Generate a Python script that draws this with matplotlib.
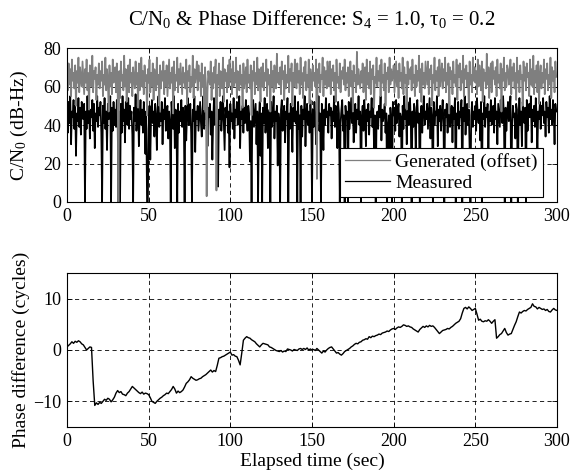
import numpy as np
import matplotlib
matplotlib.use("Agg")
import matplotlib.pyplot as plt

# ---------------- data ----------------
cn0_dt = 0.5  # sample spacing (s) of the C/N0 traces

measured_cn0 = [
    48,36,52,41,55,30,47,44,53,38,50,24,46,42,54,39,49,35,52,45,
    43,51,0,47,38,55,41,50,33,48,44,53,37,51,28,46,42,55,39,49,
    45,52,36,0,50,41,54,38,47,27,51,43,46,55,0,49,37,52,40,48,
    39,53,44,0,47,0,51,36,55,42,48,31,52,45,40,54,38,50,43,47,
    35,0,49,42,56,37,46,51,29,44,53,40,48,36,52,43,25,47,0,0,
    38,50,22,45,53,41,47,34,51,44,27,49,55,39,46,42,52,30,48,43,
    54,37,46,50,33,47,41,0,52,44,38,55,28,48,43,0,51,36,47,42,
    53,39,49,45,0,50,32,46,54,40,44,51,36,0,48,42,55,26,47,43,
    50,37,45,52,41,34,48,55,38,46,43,53,29,49,44,51,35,47,22,42,
    54,40,46,50,31,8,48,43,52,37,45,55,41,27,49,44,53,36,47,18,
    51,42,46,38,54,33,48,44,52,40,45,55,28,47,43,50,36,49,41,53,
    44,37,50,46,21,42,0,48,53,39,45,51,30,47,0,43,52,24,46,0,
    49,41,54,36,46,51,28,44,48,0,52,39,45,55,33,47,42,50,19,46,
    40,0,48,53,37,45,50,31,47,43,54,0,46,38,51,44,26,49,42,55,
    41,47,0,52,38,45,0,50,34,48,43,55,29,46,51,40,47,36,53,44,
    0,48,39,52,45,30,49,42,55,37,46,0,51,43,27,48,40,54,44,47,
    36,51,45,49,33,47,42,55,39,50,44,28,52,46,0,41,48,53,37,45,
    0,50,43,47,0,52,38,46,54,41,49,31,45,51,36,48,43,55,40,47,
    0,44,50,37,53,46,29,48,42,51,35,47,44,54,39,49,26,45,0,41,
    47,38,50,44,55,32,48,42,46,51,36,46,0,40,45,28,49,43,0,52,
    45,49,37,53,41,47,51,34,46,44,0,50,38,55,43,48,30,52,45,40,
    54,42,0,47,39,51,45,27,49,53,41,46,0,44,50,36,48,55,40,47,
    43,51,38,46,54,33,49,44,0,52,40,47,45,55,29,48,42,50,37,46,
    53,41,0,48,44,51,36,47,55,39,45,50,31,49,43,54,0,46,40,52,
    38,47,44,53,0,49,42,55,35,46,51,40,48,27,0,45,52,39,47,43,
    50,37,54,45,41,48,32,52,0,46,43,55,39,49,44,51,28,47,42,53,
    40,46,50,36,54,43,47,30,51,45,39,53,48,41,55,44,0,49,37,46,
    52,42,47,55,0,38,50,44,46,33,51,48,0,43,54,40,47,29,52,45,
    41,49,0,53,37,46,51,44,55,31,48,42,50,39,54,45,26,47,43,52,
    38,50,45,54,41,47,34,52,44,49,36,55,43,48,40,53,46,30,51,47,
]

generated_cn0 = [
    66,58,72,61,69,55,74,63,67,59,71,50,68,62,75,57,70,64,60,73,
    65,56,69,62,74,58,67,48,71,63,60,76,57,68,64,70,53,66,61,72,
    59,68,63,73,55,66,61,75,58,69,64,47,71,60,67,56,74,62,65,70,
    57,72,61,0,68,54,73,63,66,58,76,60,69,52,64,71,57,74,62,67,
    55,70,64,59,73,61,67,49,72,58,65,75,60,68,56,71,63,66,45,69,
    62,74,57,67,60,72,53,69,64,58,75,61,66,50,71,59,68,63,73,56,
    68,60,71,55,65,74,59,67,62,70,46,73,58,66,63,75,57,69,61,72,
    64,56,70,62,67,59,74,51,68,63,71,57,65,60,76,54,69,62,66,73,
    58,71,63,67,55,72,60,66,48,70,62,3,57,68,64,61,73,53,67,59,
    70,62,74,6,66,61,72,55,68,64,59,75,52,69,63,67,57,71,60,74,
    63,69,56,73,60,67,62,75,54,68,65,58,71,61,66,49,72,59,64,70,
    57,74,62,66,59,71,45,68,63,73,56,67,61,75,58,69,64,52,70,60,
    72,58,67,63,74,55,69,61,66,47,73,60,68,57,71,64,59,77,62,67,
    61,70,56,73,64,68,53,71,59,66,62,76,57,69,63,72,50,67,60,74,
    65,59,72,62,68,56,75,61,67,54,70,63,73,58,66,60,74,51,69,64,
    58,71,63,67,60,74,12,69,62,72,57,66,64,75,55,70,61,68,59,73,
    66,60,73,56,69,63,71,58,67,52,74,62,65,59,72,57,68,64,70,61,
    74,58,67,62,70,55,65,73,60,68,47,71,63,66,57,78,61,69,64,59,
    68,62,72,57,66,70,53,74,61,67,59,73,56,69,64,71,49,65,62,75,
    60,68,63,71,55,74,62,66,58,72,50,67,64,70,57,75,61,69,63,66,
    71,57,65,73,60,68,54,72,63,67,59,75,56,70,62,66,48,73,61,69,
    64,70,58,74,62,66,55,71,60,68,63,76,57,69,52,72,61,67,59,73,
    67,61,73,56,69,64,71,50,66,62,75,58,68,63,70,55,74,60,65,72,
    59,69,63,75,57,67,61,72,46,70,64,68,56,73,62,66,60,74,53,71,
    65,72,58,68,62,76,55,69,64,71,60,67,49,73,61,66,57,75,63,70,
    62,68,56,74,60,71,65,58,73,52,69,63,67,59,77,61,70,54,66,72,
    57,73,64,68,61,70,55,74,62,66,59,72,47,69,63,75,58,67,60,71,
    69,61,66,74,56,70,63,72,59,67,53,75,62,68,57,71,64,66,50,73,
    63,70,58,72,65,67,55,74,61,69,60,76,56,68,62,71,57,73,51,66,
    71,59,67,62,74,56,69,64,72,58,66,61,75,54,70,63,68,57,73,65,
]

phase_dt = 1.0  # sample spacing (s) of the phase trace
phase_diff = [
    0.6,0.9,1.2,1.6,1.3,1.7,1.5,1.8,1.6,1.2,
    1.0,0.5,0.0,0.3,0.6,0.5,-6.0,-10.8,-10.3,-10.6,
    -10.2,-10.4,-10.0,-9.6,-9.8,-9.4,-9.6,-10.1,-9.7,-9.2,
    -8.4,-7.9,-8.3,-8.1,-8.6,-8.7,-8.9,-8.4,-8.1,-7.6,
    -7.1,-7.4,-7.7,-8.0,-8.3,-8.5,-8.2,-8.6,-8.4,-8.5,
    -8.7,-9.3,-10.0,-10.2,-10.4,-10.0,-9.7,-9.4,-9.2,-8.9,
    -8.7,-8.4,-8.5,-8.1,-7.7,-7.1,-7.6,-8.4,-8.0,-8.3,
    -8.1,-7.8,-7.2,-6.5,-6.2,-5.8,-5.2,-5.5,-5.7,-5.9,
    -5.8,-5.6,-5.5,-5.2,-5.0,-4.8,-4.5,-4.2,-3.9,-4.3,
    -4.0,-4.2,-3.0,-1.6,-1.5,-1.3,-1.2,-1.0,-0.8,-0.6,
    -0.4,-1.0,-0.9,-1.2,-1.3,-2.0,-2.9,-0.6,1.9,2.3,
    2.6,2.4,2.3,2.0,1.8,1.6,1.2,0.9,0.6,1.0,
    1.3,1.2,1.1,1.0,0.6,0.5,0.3,0.1,-0.1,-0.2,
    -0.3,-0.1,-0.4,-0.2,-0.3,0.2,0.1,0.0,-0.2,0.1,
    0.0,-0.1,0.2,0.3,0.1,0.3,0.1,0.4,0.0,0.2,
    0.0,0.1,-0.1,0.3,0.0,-0.3,-0.6,-0.2,-0.4,0.0,
    0.3,0.5,0.6,0.2,-0.2,-0.6,-0.5,-0.8,-1.0,-0.7,
    -0.3,-0.1,0.1,0.3,0.6,0.8,1.1,1.3,1.2,1.5,
    1.6,1.9,2.0,2.2,2.1,2.6,2.4,2.7,2.6,2.8,
    2.9,3.1,3.0,3.3,3.4,3.5,3.7,3.6,3.9,4.1,
    4.2,4.0,4.3,4.5,4.4,4.6,4.9,4.8,4.6,4.7,
    4.5,4.4,4.1,3.9,3.7,3.5,4.0,4.3,4.6,4.4,
    4.7,4.5,4.8,4.6,4.7,4.4,4.0,3.6,3.2,3.5,
    3.8,3.9,4.0,4.2,4.1,4.4,4.6,4.9,5.2,5.4,
    5.6,6.1,7.2,8.1,8.3,8.0,8.4,8.1,7.7,7.9,
    8.1,7.0,5.8,6.0,5.6,5.5,5.7,5.6,5.9,5.6,
    5.2,5.6,5.9,2.3,2.6,3.0,3.2,3.7,4.2,3.4,
    2.9,3.1,3.2,4.0,4.8,5.5,6.5,7.4,7.2,7.5,
    7.7,7.6,7.9,8.1,8.3,9.0,8.5,8.4,8.0,8.3,
    8.1,7.9,8.0,7.7,7.9,7.5,7.4,7.8,8.1,7.8,
    7.7,
]

x_ticks = [0, 50, 100, 150, 200, 250, 300]
cn0_ticks = [0, 20, 40, 60, 80]
phase_ticks = [-10, 0, 10]

title_text = "C/N$_0$ & Phase Difference: S$_4$ = 1.0, \u03c4$_0$ = 0.2"
cn0_label = "C/N$_0$ (dB-Hz)"
phase_label = "Phase difference (cycles)"
x_label = "Elapsed time (sec)"
legend_labels = ["Generated (offset)", "Measured"]

# ---------------- style ----------------
plt.rcParams["font.family"] = ["Liberation Serif", "DejaVu Serif"]
plt.rcParams["mathtext.fontset"] = "custom"
plt.rcParams["mathtext.rm"] = "Liberation Serif"
plt.rcParams["mathtext.it"] = "Liberation Serif:italic"
plt.rcParams["mathtext.default"] = "regular"

W, H = 572, 476
fig = plt.figure(figsize=(W / 100, H / 100), dpi=100)

def px_axes(left, top, right, bottom):
    return fig.add_axes([left / W, 1 - bottom / H, (right - left) / W, (bottom - top) / H])

ax1 = px_axes(67, 48, 557, 202)
ax2 = px_axes(67, 273, 557, 427)

grid_kw = dict(color="black", linestyle=(0, (5, 4)), linewidth=0.6)

def style(ax):
    ax.tick_params(direction="in", top=True, right=True, length=3.5, width=0.6,
                   labelsize=13, pad=4, colors="black")
    for s in ax.spines.values():
        s.set_linewidth(0.8)
    ax.grid(True, **grid_kw)
    ax.set_axisbelow(True)
    ax.set_xlim(0, 300)
    ax.set_xticks(x_ticks)

# ---- top: C/N0 ----
t_cn0 = np.arange(len(measured_cn0)) * cn0_dt
l_meas, = ax1.plot(t_cn0, measured_cn0, color="black", linewidth=1.25, zorder=2)
l_gen, = ax1.plot(t_cn0, generated_cn0, color="#7f7f7f", linewidth=1.25, zorder=2.1)
style(ax1)
ax1.set_ylim(0, 80)
ax1.set_yticks(cn0_ticks)
ax1.set_ylabel(cn0_label, fontsize=14)
ax1.yaxis.set_label_coords(-0.075, 0.5)
leg = ax1.legend([l_gen, l_meas], legend_labels, loc="lower right",
                 bbox_to_anchor=(0.971, 0.032), borderaxespad=0, fontsize=14,
                 frameon=True, fancybox=False, framealpha=1, edgecolor="black",
                 handlelength=2.3, handletextpad=0.3, labelspacing=0.2, borderpad=0.25)
leg.get_frame().set_linewidth(0.8)
for ln in leg.get_lines():
    ln.set_linewidth(0.9)
leg.set_zorder(5)

fig.text(312 / W, 1 - 25 / H, title_text, ha="center", va="baseline", fontsize=15)

# ---- bottom: phase difference ----
t_phase = np.arange(len(phase_diff)) * phase_dt
ax2.plot(t_phase, phase_diff, color="black", linewidth=1.0)
style(ax2)
ax2.set_ylim(-15, 15)
ax2.set_yticks(phase_ticks)
ax2.set_ylabel(phase_label, fontsize=14)
ax2.yaxis.set_label_coords(-0.075, 0.5)
ax2.set_xlabel(x_label, fontsize=14, labelpad=2)

fig.savefig("out.png", dpi=100)
